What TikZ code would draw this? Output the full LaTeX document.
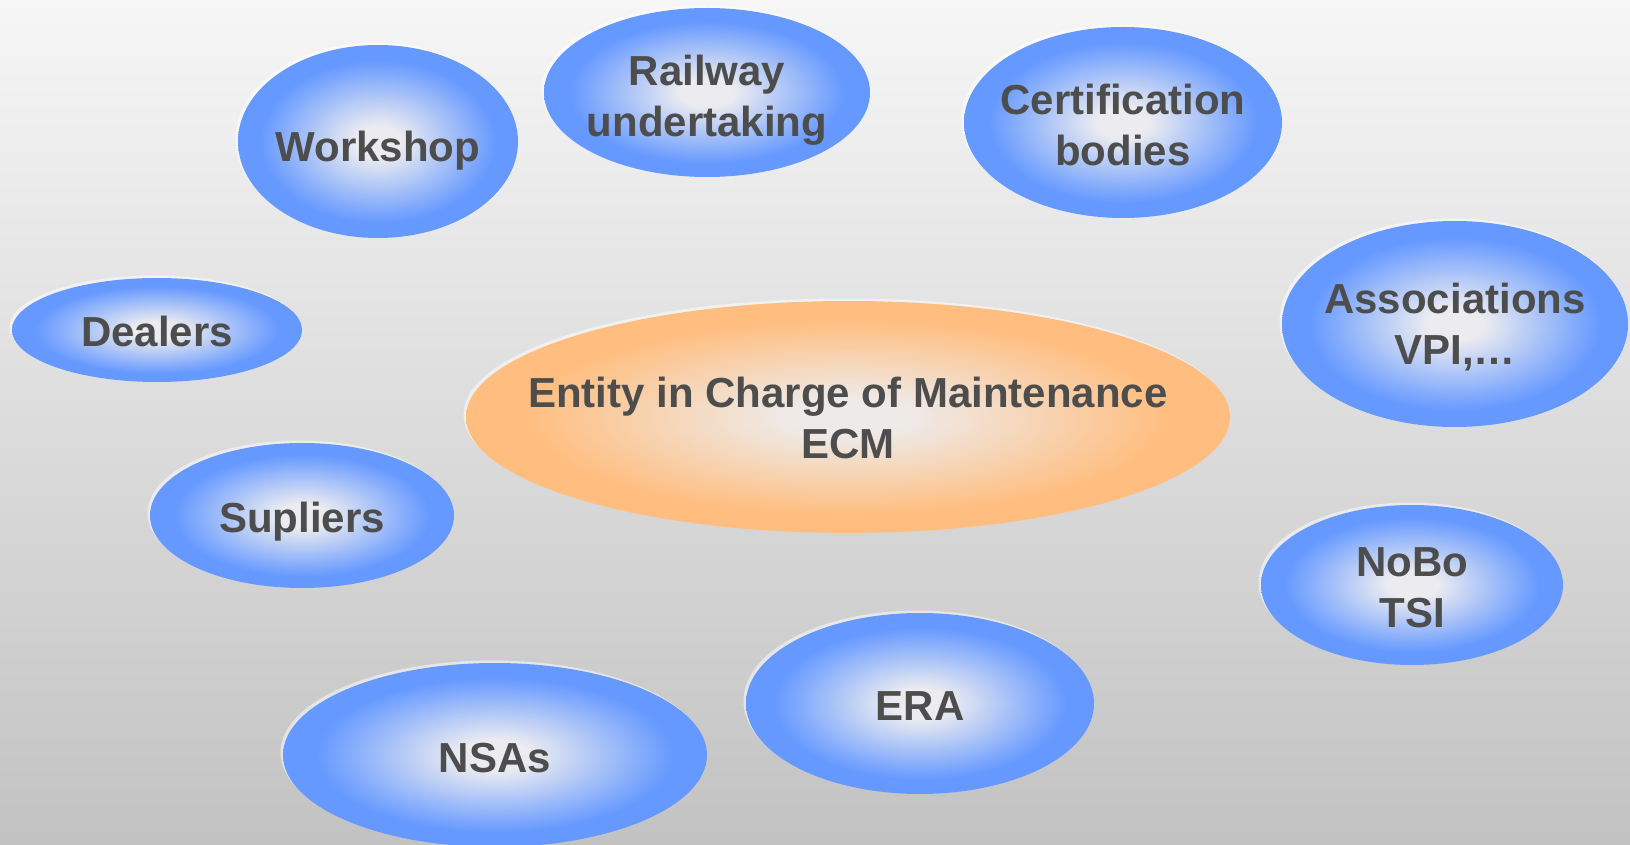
\documentclass[tikz,border=0pt]{standalone}
\usepackage{fontspec}
\setmainfont{Liberation Sans}
\usetikzlibrary{shapes.geometric}
\definecolor{bgtop}{RGB}{246,246,246}
\definecolor{bgbot}{RGB}{194,194,194}
\definecolor{bluein}{RGB}{236,236,240}
\definecolor{blueout}{RGB}{102,153,255}
\definecolor{orin}{RGB}{238,234,232}
\definecolor{orout}{RGB}{255,190,128}
\definecolor{txt}{RGB}{77,77,77}
\pgfdeclareradialshading{bluebub}{\pgfpoint{0bp}{0bp}}{color(0bp)=(bluein); color(4bp)=(bluein); color(21bp)=(blueout); color(25bp)=(blueout); color(50bp)=(blueout)}
\pgfdeclareradialshading{orbub}{\pgfpoint{0bp}{0bp}}{color(0bp)=(orin); color(4bp)=(orin); color(21bp)=(orout); color(25bp)=(orout); color(50bp)=(orout)}
\tikzset{
  bubble/.style={ellipse, inner sep=0pt, shade, shading=bluebub},
  hub/.style={ellipse, inner sep=0pt, shade, shading=orbub},
  halo/.style={ellipse, inner sep=0pt, fill=white, fill opacity=0.5},
  lbl/.style={text=txt, font=\bfseries\fontsize{21}{25.5}\selectfont, align=center, inner sep=0pt},
}
\newcommand{\bub}[6]{%
  \node[halo, minimum width=#4pt, minimum height=#5pt] at ([shift={(-2.5,-2.5)}]#2,#3) {};
  \node[#6, minimum width=#4pt, minimum height=#5pt] (#1) at (#2,#3) {};
}
\begin{document}
\begin{tikzpicture}[x=0.5pt,y=-0.5pt]
\shade[top color=bgtop, bottom color=bgbot] (0,0) rectangle (1630,845);
\useasboundingbox (0,0) rectangle (1630,845);
\bub{ws}{378}{141.5}{140}{96.5}{bubble}
\bub{ru}{707}{92.5}{163}{84.5}{bubble}
\bub{cb}{1123}{122.5}{159}{95.5}{bubble}
\bub{as}{1455}{324}{173}{103}{bubble}
\bub{dl}{157}{330}{145}{52}{bubble}
\bub{ecm}{848}{417}{382}{116}{hub}
\bub{sp}{302}{515.5}{152}{72.5}{bubble}
\bub{nb}{1412}{585}{151}{80}{bubble}
\bub{era}{920}{703.5}{174}{90.5}{bubble}
\bub{nsa}{495}{755}{212}{92}{bubble}
\node[lbl] (t-ws) at ([yshift=-4.5pt]ws.center) {Workshop};
\node[lbl] (t-ru) at ([yshift=-3.7pt]ru.center) {Railway\\undertaking};
\node[lbl] (t-cb) at ([yshift=-1pt]cb.center) {Certification\\bodies};
\node[lbl] (t-as) at ([yshift=-1.5pt]as.center) {Associations\\VPI,…};
\node[lbl] (t-dl) at ([yshift=-0.5pt]dl.center) {Dealers};
\node[lbl] (t-ecm) at ([yshift=-0.5pt]ecm.center) {Entity in Charge of Maintenance\\ECM};
\node[lbl] (t-sp) at ([yshift=-3pt]sp.center) {Supliers};
\node[lbl] (t-nb) at ([yshift=-1.5pt]nb.center) {NoBo\\TSI};
\node[lbl] (t-era) at ([yshift=-1.5pt]era.center) {ERA};
\node[lbl] (t-nsa) at ([yshift=-1.5pt]nsa.center) {NSAs};
\end{tikzpicture}
\end{document}
